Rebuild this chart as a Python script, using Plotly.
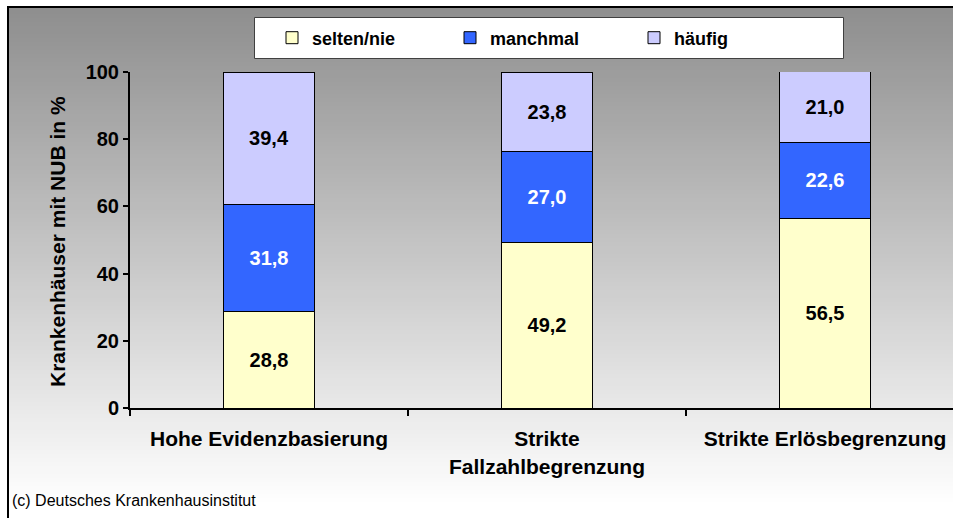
import plotly.graph_objects as go

# ---------------- data ----------------
categories = ["Hohe Evidenzbasierung", "Strikte<br>Fallzahlbegrenzung", "Strikte Erlösbegrenzung"]
series_names = ["selten/nie", "manchmal", "häufig"]
selten_nie = [28.8, 49.2, 56.5]
manchmal = [31.8, 27.0, 22.6]
haeufig = [39.4, 23.8, 21.0]
y_ticks = [0, 20, 40, 60, 80, 100]
y_title = "Krankenhäuser mit NUB in %"
footer = "(c) Deutsches Krankenhausinstitut"

# ---------------- layout geometry (pixels) ----------------
W, H = 953, 518
L, R, T, B = 130, 0, 72, 110
PW, PH = W - L - R, H - T - B


def px2x(px):
    return (px - L) / PW


def py2y(py):
    return (H - B - py) / PH


FONT = "Liberation Sans, Arial, sans-serif"
colors = ["#FFFFCC", "#3366FF", "#CCCCFF"]
text_colors = ["black", "white", "black"]
values = [selten_nie, manchmal, haeufig]
legend_ids = ["legend", "legend2", "legend3"]

fig = go.Figure()
for name, vals, col, tcol, lid in zip(series_names, values, colors, text_colors, legend_ids):
    fig.add_trace(go.Bar(
        x=categories, y=vals, name=name,
        marker=dict(color=col, line=dict(color="black", width=1)),
        texttemplate="%{y:.1f}", textposition="inside", insidetextanchor="middle",
        textfont=dict(family=FONT, size=20, color=tcol, weight="bold"),
        legend=lid, hoverinfo="skip",
    ))

# gradient background as thin strips
shapes = []
y_top, y_bot = 6, H
step = 4
for py in range(y_top, y_bot, step):
    frac = min(max((py + step / 2 - 8) / (505 - 8), 0), 1)
    g = int(round(142 + (255 - 142) * frac))
    shapes.append(dict(type="rect", xref="paper", yref="paper", layer="below",
                       x0=px2x(7), x1=px2x(W + 10), y0=py2y(py), y1=py2y(py + step + 1),
                       fillcolor=f"rgb({g},{g},{g})", line=dict(width=0)))
# outer border
shapes.append(dict(type="rect", xref="paper", yref="paper", layer="above",
                   x0=px2x(8), x1=px2x(W + 10), y0=py2y(7), y1=py2y(H + 10),
                   line=dict(color="black", width=2), fillcolor="rgba(0,0,0,0)"))
# legend box
shapes.append(dict(type="rect", xref="paper", yref="paper", layer="above",
                   x0=px2x(254.5), x1=px2x(843.5), y0=py2y(17.5), y1=py2y(58.5),
                   line=dict(color="#404040", width=1), fillcolor="white"))

legend_common = dict(orientation="h", bgcolor="rgba(0,0,0,0)", borderwidth=0,
                     font=dict(family=FONT, size=18, color="black", weight="bold"),
                     xanchor="left", yanchor="middle", y=py2y(38), itemclick=False)
text_starts = [312, 490, 674]

layout_legends = {}
for lid, ts in zip(legend_ids, text_starts):
    layout_legends[lid] = dict(legend_common, x=px2x(ts - 40))

fig.update_layout(
    width=W, height=H,
    margin=dict(l=L, r=R, t=T, b=B, pad=0),
    paper_bgcolor="white", plot_bgcolor="rgba(0,0,0,0)",
    barmode="stack", bargap=0.676,
    separators=",.",
    showlegend=True,
    shapes=shapes,
    font=dict(family=FONT, color="black"),
    xaxis=dict(range=[-0.5, 2.5 - (964 - W) / 278], showline=True, linecolor="black", linewidth=2,
               ticks="outside", ticklen=6, tickwidth=2, tickcolor="black", tickson="boundaries",
               ticklabelstandoff=11,
               showgrid=False, zeroline=False, fixedrange=True,
               tickfont=dict(family=FONT, size=21, color="black", weight="bold")),
    yaxis=dict(range=[0, 100], tickvals=y_ticks, showline=True, linecolor="black", linewidth=2,
               ticks="outside", ticklen=5, tickwidth=2, tickcolor="black",
               showgrid=False, zeroline=False, fixedrange=True,
               tickfont=dict(family=FONT, size=20, color="black", weight="bold")),
    annotations=[
        dict(text=y_title, xref="paper", yref="paper", x=px2x(57), y=py2y(242),
             textangle=-90, showarrow=False, xanchor="center", yanchor="middle",
             font=dict(family=FONT, size=21, color="black", weight="bold")),
        dict(text=footer, xref="paper", yref="paper", x=px2x(10), y=py2y(500),
             showarrow=False, xanchor="left", yanchor="middle",
             font=dict(family=FONT, size=16, color="black")),
    ],
    **layout_legends,
)

fig.write_html("out.html",
               config={"displayModeBar": False},
               post_script="document.body.style.margin='0';document.body.style.overflow='hidden';")
